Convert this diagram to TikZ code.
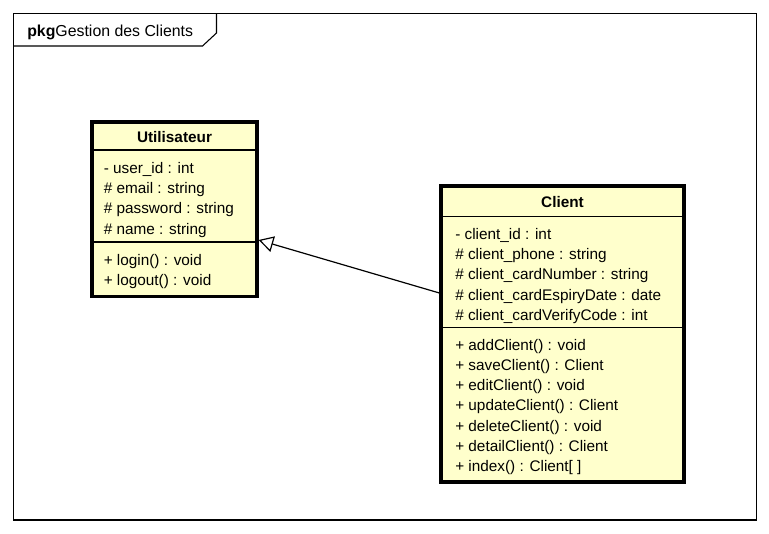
\documentclass[tikz,border=0pt]{standalone}
\usepackage{fontspec}
\setmainfont{Liberation Sans}
\usetikzlibrary{arrows.meta}
\definecolor{classfill}{RGB}{255,255,204}

\begin{document}
\begin{tikzpicture}[
  x=0.75pt,
  y=-0.75pt,
  frameline/.style={draw=black, line width=0.8pt},
  classbox/.style={
    draw=black,
    fill=classfill,
    line width=2.4pt,
    rectangle,
    inner sep=0pt
  },
  divider/.style={draw=black, line width=1pt},
  classname/.style={
    font=\bfseries\fontsize{11.5}{15.13}\selectfont,
    anchor=base,
    inner sep=0pt
  },
  members/.style={
    font=\fontsize{11.5}{15.13}\selectfont,
    align=left,
    anchor=base west,
    inner sep=0pt
  },
  generalization/.style={
    draw=black,
    line width=0.9pt,
    -{Triangle[open, length=11pt, width=12pt, fill=white]}
  }
]

% Canvas, same size as the reference
\path[use as bounding box] (0,0) rectangle (769,533);

% Package frame and its tab
\draw[frameline] (13.5,13.5) rectangle (756.5,520);
\draw[frameline] (13.5,46) -- (202.5,46) -- (216.5,33) -- (216.5,13.5);
\node[anchor=base west, inner sep=0pt, font=\fontsize{11.9}{14}\selectfont]
  (pkgtitle) at (27,36.5) {\textbf{pkg}Gestion des Clients};

% Class Utilisateur (member nodes sit on the baseline of their last line)
\node[classbox, minimum width=123.75pt, minimum height=130.9pt]
  (util) at (174.5,209.25) {};
\draw[divider] (util.west |- 0,150) -- (util.east |- 0,150);
\draw[divider] (util.west |- 0,242) -- (util.east |- 0,242);
\node[classname] (utilname) at (174.5,142.7) {Utilisateur};
\node[members] (utilattrs) at (103.5,234)
  {- user\_id : int\\
   \# email : string\\
   \# password : string\\
   \# name : string};
\node[members] (utilops) at (103.5,285.2)
  {+ login() : void\\
   + logout() : void};

% Class Client
\node[classbox, minimum width=182.25pt, minimum height=222pt]
  (client) at (562.5,334) {};
\draw[divider] (client.west |- 0,216.7) -- (client.east |- 0,216.7);
\draw[divider] (client.west |- 0,327.7) -- (client.east |- 0,327.7);
\node[classname] (clientname) at (562.5,207.3) {Client};
\node[members] (clientattrs) at (455,320.2)
  {- client\_id : int\\
   \# client\_phone : string\\
   \# client\_cardNumber : string\\
   \# client\_cardEspiryDate : date\\
   \# client\_cardVerifyCode : int};
\node[members] (clientops) at (455,471.5)
  {+ addClient() : void\\
   + saveClient() : Client\\
   + editClient() : void\\
   + updateClient() : Client\\
   + deleteClient() : void\\
   + detailClient() : Client\\
   + index() : Client[ ]};

% Generalization Client -> Utilisateur
\draw[generalization] ([yshift=30.75pt]client.west)
  -- ([yshift=-23.06pt]util.east);

\end{tikzpicture}
\end{document}
